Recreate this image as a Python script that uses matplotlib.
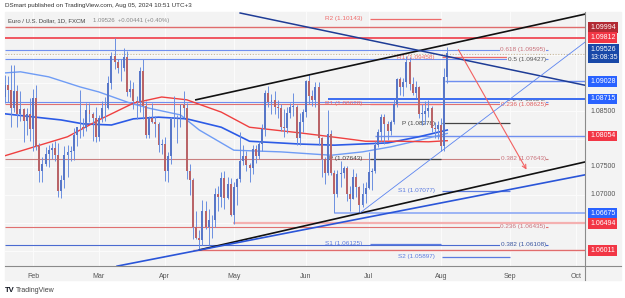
import matplotlib
matplotlib.use("Agg")
import matplotlib.pyplot as plt
import matplotlib.transforms as mtransforms
import numpy as np
import pandas as pd

plt.rcParams["font.family"] = ["Liberation Sans", "DejaVu Sans"]

# ---- daily OHLC, EUR/USD FXCM ----
first_day = "2024-01-19"
opens = [1.0875, 1.0897, 1.0887, 1.0856, 1.0885, 1.0845, 1.0853, 1.0833, 1.0845, 1.0817,
         1.0874, 1.0788, 1.0743, 1.0755, 1.0774, 1.0780, 1.0784, 1.0771, 1.0708, 1.0727,
         1.0772, 1.0777, 1.0778, 1.0808, 1.0821, 1.0822, 1.0820, 1.0851, 1.0845, 1.0838,
         1.0804, 1.0838, 1.0855, 1.0855, 1.0900, 1.0949, 1.0938, 1.0927, 1.0927, 1.0947,
         1.0884, 1.0889, 1.0868, 1.0866, 1.0922, 1.0859, 1.0808, 1.0838, 1.0831, 1.0826,
         1.0790, 1.0791, 1.0742, 1.0770, 1.0836, 1.0836, 1.0837, 1.0860, 1.0855, 1.0742,
         1.0727, 1.0643, 1.0623, 1.0619, 1.0671, 1.0643, 1.0655, 1.0656, 1.0702, 1.0697,
         1.0730, 1.0694, 1.0720, 1.0665, 1.0714, 1.0728, 1.0761, 1.0770, 1.0753, 1.0748,
         1.0782, 1.0770, 1.0791, 1.0817, 1.0882, 1.0866, 1.0870, 1.0857, 1.0855, 1.0822,
         1.0819, 1.0847, 1.0858, 1.0858, 1.0801, 1.0831, 1.0848, 1.0904, 1.0876, 1.0869,
         1.0893, 1.0801, 1.0764, 1.0740, 1.0809, 1.0740, 1.0702, 1.0737, 1.0740, 1.0749,
         1.0701, 1.0692, 1.0733, 1.0714, 1.0683, 1.0701, 1.0713, 1.0741, 1.0742, 1.0790,
         1.0812, 1.0840, 1.0827, 1.0814, 1.0830, 1.0862, 1.0907, 1.0893, 1.0902, 1.0937,
         1.0898, 1.0882, 1.0892, 1.0845, 1.0845, 1.0850, 1.0856, 1.0820, 1.0817, 1.0825,
         1.0788, 1.0910]
highs = [1.0915, 1.0912, 1.0932, 1.0932, 1.0896, 1.0886, 1.0856, 1.0855, 1.0873, 1.0889,
         1.0897, 1.0793, 1.0768, 1.0785, 1.0790, 1.0793, 1.0797, 1.0793, 1.0735, 1.0787,
         1.0789, 1.0787, 1.0820, 1.0822, 1.0888, 1.0838, 1.0864, 1.0865, 1.0849, 1.0858,
         1.0843, 1.0868, 1.0875, 1.0912, 1.0956, 1.0981, 1.0943, 1.0943, 1.0963, 1.0957,
         1.0905, 1.0902, 1.0876, 1.0929, 1.0942, 1.0867, 1.0841, 1.0865, 1.0841, 1.0830,
         1.0800, 1.0803, 1.0777, 1.0840, 1.0877, 1.0843, 1.0863, 1.0885, 1.0865, 1.0756,
         1.0731, 1.0672, 1.0637, 1.0691, 1.0690, 1.0675, 1.0665, 1.0713, 1.0716, 1.0741,
         1.0742, 1.0732, 1.0730, 1.0723, 1.0731, 1.0812, 1.0790, 1.0778, 1.0757, 1.0789,
         1.0790, 1.0796, 1.0827, 1.0888, 1.0895, 1.0881, 1.0886, 1.0870, 1.0862, 1.0854,
         1.0858, 1.0865, 1.0882, 1.0861, 1.0846, 1.0853, 1.0905, 1.0916, 1.0887, 1.0902,
         1.0902, 1.0804, 1.0768, 1.0852, 1.0816, 1.0745, 1.0745, 1.0761, 1.0752, 1.0752,
         1.0716, 1.0747, 1.0740, 1.0716, 1.0721, 1.0724, 1.0776, 1.0748, 1.0797, 1.0817,
         1.0845, 1.0845, 1.0833, 1.0834, 1.0872, 1.0909, 1.0911, 1.0909, 1.0948, 1.0946,
         1.0911, 1.0904, 1.0895, 1.0863, 1.0868, 1.0870, 1.0859, 1.0831, 1.0832, 1.0838,
         1.0926, 1.0965]
lows = [1.0865, 1.0866, 1.0822, 1.0849, 1.0822, 1.0833, 1.0795, 1.0807, 1.0796, 1.0779,
        1.0780, 1.0723, 1.0723, 1.0752, 1.0750, 1.0765, 1.0761, 1.0697, 1.0695, 1.0712,
        1.0733, 1.0761, 1.0762, 1.0787, 1.0802, 1.0806, 1.0814, 1.0830, 1.0796, 1.0795,
        1.0797, 1.0831, 1.0833, 1.0854, 1.0890, 1.0925, 1.0918, 1.0903, 1.0922, 1.0876,
        1.0875, 1.0854, 1.0836, 1.0849, 1.0835, 1.0801, 1.0802, 1.0829, 1.0804, 1.0776,
        1.0773, 1.0725, 1.0724, 1.0755, 1.0822, 1.0792, 1.0822, 1.0838, 1.0728, 1.0700,
        1.0622, 1.0622, 1.0601, 1.0611, 1.0639, 1.0610, 1.0623, 1.0643, 1.0672, 1.0678,
        1.0675, 1.0693, 1.0662, 1.0649, 1.0683, 1.0724, 1.0754, 1.0742, 1.0724, 1.0738,
        1.0758, 1.0765, 1.0779, 1.0806, 1.0858, 1.0845, 1.0845, 1.0837, 1.0815, 1.0804,
        1.0811, 1.0838, 1.0841, 1.0789, 1.0789, 1.0812, 1.0840, 1.0862, 1.0859, 1.0858,
        1.0790, 1.0732, 1.0720, 1.0736, 1.0735, 1.0668, 1.0696, 1.0714, 1.0731, 1.0690,
        1.0672, 1.0692, 1.0697, 1.0667, 1.0679, 1.0685, 1.0710, 1.0709, 1.0739, 1.0786,
        1.0796, 1.0791, 1.0798, 1.0807, 1.0826, 1.0857, 1.0878, 1.0876, 1.0893, 1.0888,
        1.0878, 1.0874, 1.0838, 1.0825, 1.0826, 1.0840, 1.0812, 1.0802, 1.0800, 1.0778,
        1.0778, 1.0900]
closes = opens[1:] + [1.0953]

# ---- moving averages (bar index, price) ----
ma_red_idx = [0, 20, 30, 41, 50, 58, 69, 78, 94, 104, 115, 126, 135, 141]
ma_red_val = [1.0770, 1.0804, 1.0834, 1.0864, 1.0875, 1.0870, 1.0848, 1.0821, 1.0811, 1.0804,
              1.0796, 1.0796, 1.0795, 1.0797]
ma_blue_idx = [0, 18, 25, 34, 41, 49, 58, 69, 78, 94, 105, 122, 132, 141]
ma_blue_val = [1.0845, 1.0834, 1.0827, 1.0825, 1.0836, 1.0839, 1.0836, 1.0821, 1.0796, 1.0791,
               1.0789, 1.0793, 1.0804, 1.0816]
ma_light_idx = [0, 5, 14, 24, 30, 40, 46, 56, 62, 73, 88, 104, 114, 123, 130, 141]
ma_light_val = [1.0918, 1.0920, 1.0911, 1.0893, 1.0884, 1.0864, 1.0855, 1.0843, 1.0816, 1.0780,
                1.0777, 1.0771, 1.0777, 1.0786, 1.0795, 1.0810]

# ---- trend lines (bar index, price) pairs ----
trend_black_up = ([60.9, 184.9], [1.0870, 1.1023])
trend_black_low = ([62.0, 184.9], [1.0602, 1.0759])
trend_blue_low = ([35.8, 184.9], [1.0573, 1.0736])
trend_navy_down = ([75.0, 184.9], [1.1025, 1.0896])
trend_thin_up = ([113.2, 184.9], [1.0668, 1.0973])
arrow_red = ([144.1, 166.7], [1.0964, 1.0741])

# ---- fibonacci levels (label, price, color) ----
fib_labels = ["0.618 (1.09595)", "0.5 (1.09427)", "0.5 (1.08654)", "0.236 (1.08625)",
              "0.382 (1.07643)", "0.236 (1.06435)", "0.382 (1.06108)"]
fib_prices = [1.09595, 1.09427, 1.08654, 1.08625, 1.07643, 1.06435, 1.06108]
fib_colors = ["#c9707a", "#555555", "#555555", "#e06060", "#c9707a", "#c9707a", "#3a55a0"]
fib_lines = ["#6f8ff0", "#6f8ff0", "#6f8ff0", "#e07070", "#c98080", "#e07070", "#4a6ad0"]

# ---- monthly pivots: (name, price) ----
pivots_jul = [("R2", 1.10143), ("R1", 1.08628), ("P", 1.07643), ("S1", 1.06125)]
pivots_aug = [("R1", 1.09458), ("P", 1.08278), ("S1", 1.07077), ("S2", 1.05897)]
pivot_colors = {"R2": "#ee6b6b", "R1": "#ee6b6b", "P": "#444444", "S1": "#5b7be0", "S2": "#5b7be0"}

# ---- horizontal rays (price, start index, color, width) ----
ray_prices = [1.09994, 1.09812, 1.09028, 1.08715, 1.08054, 1.06675, 1.06494, 1.06011]
ray_starts = [0, 0, 140.3, 103.0, 118.0, 105.2, 72.7, 60.0]
ray_colors = ["#e06c6c", "#f04a55", "#6f8ff0", "#3b6df0", "#6f8ff0", "#9bb4f5", "#f4b0b0", "#e06c6c"]
ray_widths = [1.0, 1.3, 1.0, 1.4, 1.0, 1.4, 1.6, 1.0]

# ---- price scale boxes ----
box_prices = [1.09994, 1.09812, 1.09028, 1.08715, 1.08054, 1.06675, 1.06494, 1.06011]
box_colors = ["#b22a33", "#f23645", "#2962ff", "#2962ff", "#f23645", "#2962ff", "#f23645", "#f23645"]
plain_ticks = [1.085, 1.075, 1.070]
last_price = 1.09526
month_names = ["Feb", "Mar", "Apr", "May", "Jun", "Jul", "Aug", "Sep", "Oct"]

BG = "#f3f3f3"
dates = pd.bdate_range(first_day, "2024-10-15")
n = len(closes)
idx = np.arange(n)

fig = plt.figure(figsize=(6.25, 2.98), dpi=100)
fig.patches.append(plt.Rectangle((5 / 625, 18 / 298), 616 / 625, 268 / 298,
                                 transform=fig.transFigure, color=BG, zorder=-10))
ax = fig.add_axes([5 / 625, 32 / 298, 580 / 625, 254 / 298])
ax.set_facecolor(BG)
x0, x1 = 0.08, 184.9
y0, y1 = 1.05732, 1.10268
ax.set_xlim(x0, x1)
ax.set_ylim(y0, y1)
for s in ["top", "left", "right", "bottom"]:
    ax.spines[s].set_visible(False)
# axis frame lines (time scale + price scale)
fig.add_artist(plt.Line2D([5 / 625, 621 / 625], [32 / 298, 32 / 298], color="#8a8a8a", lw=0.8))
fig.add_artist(plt.Line2D([585 / 625, 585 / 625], [18 / 298, 286 / 298], color="#8a8a8a", lw=0.8))

# grid
month_idx = []
for m in range(2, 11):
    first = dates[(dates.month == m)][0]
    month_idx.append(dates.get_loc(first))
for mi in month_idx:
    ax.axvline(mi, color="#fbfbfb", lw=0.8, zorder=0.5)
for p in np.arange(1.06, 1.101, 0.005):
    ax.axhline(p, color="#fbfbfb", lw=0.8, zorder=0.5)
ax.set_xticks(month_idx)
ax.set_xticklabels(month_names, fontsize=5, color="#555555")
ax.tick_params(axis="x", length=0, pad=5)
ax.set_yticks([])

# horizontal rays
for p, st, c, w in zip(ray_prices, ray_starts, ray_colors, ray_widths):
    ax.hlines(p, st, x1, color=c, lw=w, zorder=1)
ax.hlines(last_price, x0, x1, color="#c8b89a", lw=0.8, linestyles=(0, (1, 1.5)), zorder=1)

# fib levels with labels at right
fib_end = 173.2
for lab, p, tc, lc in zip(fib_labels, fib_prices, fib_colors, fib_lines):
    ax.hlines(p, x0, fib_end, color=lc, lw=0.8, zorder=1)
for lab, p, tc in zip(fib_labels, fib_prices, fib_colors):
    ax.text(fib_end - 0.8, p, lab, fontsize=4.6, color=tc, ha="right", va="center",
            zorder=3, bbox=dict(facecolor=BG, edgecolor="none", pad=0.2))

# pivots
for piv, start, end in [(pivots_jul, 116, 139), (pivots_aug, 139, 161)]:
    for name, p in piv:
        c = pivot_colors[name]
        ax.hlines(p, start + 0.3, end, color=c, lw=0.9, zorder=2)
        ax.text(start - 2.0, p, f"{name} ({p:.5f})", fontsize=4.6, color=c,
                ha="right", va="center", zorder=3)

# moving averages
ax.plot(ma_light_idx, ma_light_val, color="#6f9cf5", lw=1.0, zorder=2)
ax.plot(ma_blue_idx, ma_blue_val, color="#2c5be6", lw=1.2, zorder=2)
ax.plot(ma_red_idx, ma_red_val, color="#ef4040", lw=1.0, zorder=2)

# candles
up_c, dn_c, wick_c = "#5877c8", "#b96468", "#6b8fe0"
for i, o, h, l, c in zip(idx, opens, highs, lows, closes):
    col = up_c if c >= o else dn_c
    ax.vlines(i, l, h, color=wick_c, lw=0.7, zorder=3)
    ax.bar(i, max(abs(c - o), 0.00006), bottom=min(o, c), width=0.62, color=col, zorder=4)

# trend lines
ax.plot(*trend_black_up, color="#111111", lw=1.2, zorder=5)
ax.plot(*trend_black_low, color="#111111", lw=1.2, zorder=5)
ax.plot(*trend_blue_low, color="#2a55d8", lw=1.2, zorder=5)
ax.plot(*trend_navy_down, color="#1e3c96", lw=1.1, zorder=5)
ax.plot(*trend_thin_up, color="#5b84f0", lw=0.6, zorder=5)
ax.annotate("", xy=(arrow_red[0][1], arrow_red[1][1]), xytext=(arrow_red[0][0], arrow_red[1][0]),
            arrowprops=dict(arrowstyle="->", color="#f26060", lw=0.8, mutation_scale=7), zorder=6)

# price scale
tr = mtransforms.blended_transform_factory(ax.transAxes, ax.transData)
xl = 1 + 5 / 580
for p in plain_ticks:
    ax.text(xl, p, f"{p:.5f}", transform=tr, fontsize=5, color="#555555", va="center",
            ha="left", clip_on=False)
for p, c in zip(box_prices, box_colors):
    ax.text(xl, p, f"{p:.5f}", transform=tr, fontsize=5, color="white", va="center", ha="left",
            clip_on=False, bbox=dict(facecolor=c, edgecolor="none", pad=1.4))
ax.text(xl, last_price, f"{last_price:.5f}\n13:08:35", transform=tr, fontsize=5, color="white",
        va="center", ha="left", linespacing=1.1, clip_on=False,
        bbox=dict(facecolor="#1848a8", edgecolor="none", pad=1.4))

# header / legend / footer
fig.text(5 / 625, 1 - 6 / 298, "DSmart published on TradingView.com, Aug 05, 2024 10:51 UTC+3",
         fontsize=4.5, color="#333333", va="center")
ax.text(0.006, 0.965, "Euro / U.S. Dollar, 1D, FXCM", transform=ax.transAxes, fontsize=4.3,
        color="#444444", va="center", zorder=7)
ax.text(0.152, 0.965, "1.09526  +0.00441 (+0.40%)", transform=ax.transAxes, fontsize=4.3,
        color="#888888", va="center", zorder=7)
fig.text(5 / 625, 1 - 291 / 298, "TV", fontsize=5.5, fontweight="bold", color="#131722", va="center")
fig.text(16 / 625, 1 - 291 / 298, "TradingView", fontsize=5, color="#444444", va="center")

fig.savefig("out.png", dpi=100)
